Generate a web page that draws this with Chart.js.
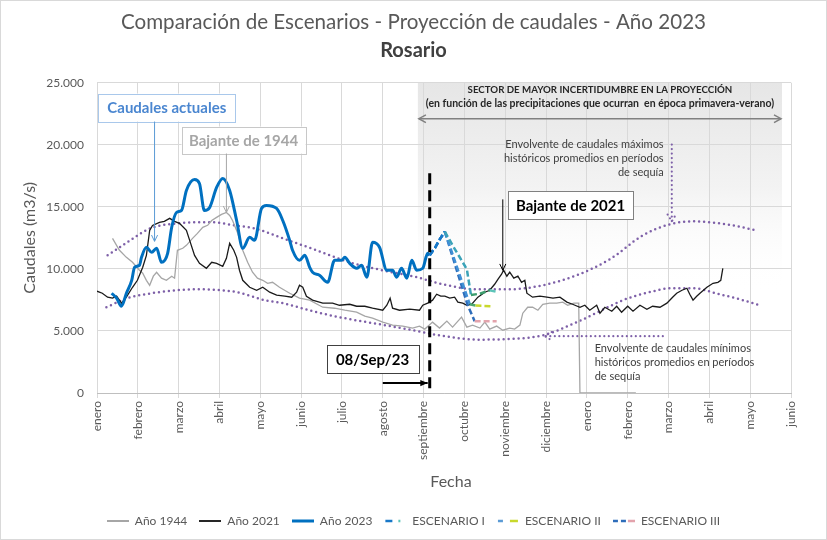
<!DOCTYPE html>
<html><head><meta charset="utf-8">
<script src="https://cdn.jsdelivr.net/npm/chart.js@4.4.0/dist/chart.umd.min.js"></script>
<style>html,body{margin:0;padding:0;background:#fff;overflow:hidden}</style>
</head><body>
<canvas id="c" width="827" height="540"></canvas>
<script>
// ---- DATA (x = meses desde el 1 de enero de 2023) ----
const meses = ['enero','febrero','marzo','abril','mayo','junio','julio','agosto','septiembre','octubre','noviembre','diciembre','enero','febrero','marzo','abril','mayo','junio'];

const mes2023 = [0.36,0.48,0.60,0.72,0.85,0.92,1.04,1.09,1.21,1.34,1.46,1.58,1.73,1.83,1.95,2.07,2.19,2.39,2.51,2.63,2.76,2.93,3.08,3.25,3.42,3.57,3.74,3.86,4.03,4.15,4.40,4.55,4.72,4.79,4.96,5.09,5.21,5.28,5.45,5.65,5.82,5.99,6.07,6.19,6.36,6.48,6.61,6.75,6.92,7.10,7.24,7.34,7.46,7.59,7.71,7.83,7.98,8.10,8.15];
const caudal2023 = [8040,7640,6990,8040,9080,10130,10290,10930,11740,11340,11660,10530,11250,13350,14550,14710,16320,17200,16880,14710,14950,16560,17280,16320,13900,11660,12540,12300,14870,15110,14870,13900,12300,11500,10690,11090,10130,9730,9490,8920,10690,10690,10930,10450,10050,10290,9330,12140,11740,9890,9890,9330,10050,9250,10690,9890,10050,11250,11100];

const mes2021 = [0.00,0.13,0.26,0.38,0.48,0.60,0.72,0.87,0.99,1.12,1.21,1.29,1.36,1.53,1.65,1.78,1.90,2.02,2.19,2.27,2.39,2.51,2.68,2.81,2.93,3.08,3.17,3.25,3.35,3.42,3.49,3.57,3.74,3.91,4.06,4.23,4.40,4.60,4.77,4.89,4.96,5.04,5.13,5.28,5.53,5.77,5.94,6.19,6.36,6.56,6.75,7.00,7.10,7.18,7.24,7.41,7.66,7.90,7.98,8.10,8.22,8.32,8.42,8.52,8.64,8.76,8.84,8.96,9.06,9.18,9.33,9.50,9.62,9.74,9.82,9.91,9.96,10.04,10.11,10.21,10.31,10.40,10.48,10.53,10.67,10.85,11.02,11.17,11.34,11.51,11.65,11.83,11.95,12.07,12.24,12.32,12.44,12.61,12.73,12.85,13.00,13.13,13.30,13.47,13.61,13.79,13.96,14.10,14.20,14.33,14.45,14.52,14.60,14.69,14.77,14.94,15.09,15.21,15.28,15.33];
const caudal2021 = [8200,8040,7720,7640,7800,7240,7720,8520,9080,10130,11090,13100,13500,13750,13830,14070,13830,13670,13100,12300,11090,10450,10050,10530,10450,10210,10850,12060,11500,10930,9890,9080,8520,8280,8520,8120,7880,7800,7720,8120,8680,8520,7800,7480,7240,7240,7070,7150,6990,6990,6830,6670,7070,7640,6830,6670,6750,6670,7070,7240,7480,7960,7800,7800,7640,7720,7320,7240,7070,7150,7720,8120,8280,8760,9160,9570,9890,9410,9730,9250,9410,8920,9080,8040,7720,7800,7720,7640,7720,7320,7150,6910,7070,6670,7070,6430,6910,6590,6990,6510,6990,6590,7070,6750,6990,6910,7240,7720,8040,8280,8440,7960,7480,7800,8040,8520,8840,8920,9080,10050];

const mes1944 = [0.38,0.55,0.72,0.87,1.04,1.12,1.21,1.29,1.38,1.46,1.58,1.70,1.83,1.90,1.97,2.10,2.19,2.34,2.46,2.59,2.71,2.81,2.93,3.05,3.17,3.25,3.32,3.44,3.57,3.69,3.81,3.93,4.06,4.18,4.30,4.47,4.72,4.96,5.21,5.53,5.82,6.07,6.36,6.56,6.75,7.00,7.24,7.49,7.73,7.90,8.03,8.22,8.39,8.57,8.71,8.93,9.06,9.20,9.38,9.50,9.62,9.79,9.94,10.11,10.23,10.36,10.43,10.55,10.67,10.80,10.92,11.09,11.26,11.41,11.53,11.68,11.80,11.83,13.20];
const caudal1944 = [12460,11500,10930,10530,9890,9650,9080,8680,9410,9730,9250,9080,9410,9250,11500,11660,11900,12460,12860,13350,13510,13900,14150,14390,14550,14310,13900,12940,11500,10530,9730,9250,9080,8840,8920,8520,8040,7640,7480,6910,6830,6670,6510,6190,6030,5710,5470,5390,5230,5390,5150,5710,5230,5790,5310,6110,5310,5470,5230,5710,5150,5390,5060,5230,5150,5470,6430,6910,6910,6670,7150,7240,7240,7320,7070,7240,7240,0,0];

const mesEsc1 = [8.15,8.28,8.40,8.52,8.71,9.06,9.16,9.38,9.62,9.79];
const caudalEsc1 = [11100,11700,12400,13000,11900,9970,7900,8000,8280,8150];
const mesEsc2 = [8.15,8.28,8.40,8.52,9.13,9.27,9.70];
const caudalEsc2 = [11100,11700,12400,13000,7150,7050,6990];
const mesEsc3 = [8.15,8.28,8.40,8.52,9.08,9.25,9.79];
const caudalEsc3 = [11100,11700,12400,13000,7070,5790,5790];

const mesEnvMax = [0.26,0.74,1.30,1.97,2.39,2.88,3.37,3.86,4.55,5.38,6.19,6.99,7.83,8.47,9.30,10.11,10.92,11.75,12.56,13.37,14.03,14.60,15.43,16.16];
const caudalEnvMax = [11090,12140,13260,13670,13750,13750,13500,13260,12460,11500,10530,9890,9330,8760,8360,8360,8680,9490,10770,12700,13590,13830,13590,13100];
const mesEnvMin = [0.23,0.75,1.34,1.97,2.39,2.95,3.44,4.11,4.55,5.38,6.19,6.99,7.83,8.47,9.30,10.11,10.92,11.75,12.32,12.90,13.50,14.10,14.60,15.20,15.80,16.25];
const caudalEnvMin = [6910,7640,8040,8280,8360,8300,8120,7480,7240,6510,5950,5500,5000,4600,4300,4350,4650,5700,6600,7500,8100,8450,8450,8000,7500,7050];

const fechaActual = 8.15;      // 08/Sep/23
const sectorInicio = 7.86, sectorFin = 16.78;

// ---- helpers ----
const pts = (xs, ys) => xs.map((m, i) => ({x: m, y: ys[i]}));
const fmt = v => String(v).replace(/\B(?=(\d{3})+(?!\d))/g, '.');
const FONT = 'Lato, "Liberation Sans", sans-serif';
Chart.defaults.font.family = FONT;
Chart.defaults.color = '#595959';

function segColors(colors) {
  return { borderColor: c => colors[Math.min(c.p0DataIndex, colors.length - 1)] };
}

function sample(draw) {
  const cv = document.createElement('canvas'); cv.width = 22; cv.height = 12;
  const g = cv.getContext('2d'); draw(g); return cv;
}
function seg(g, x1, x2, color, w) {
  g.strokeStyle = color; g.lineWidth = w; g.beginPath(); g.moveTo(x1, 6); g.lineTo(x2, 6); g.stroke();
}
const legendItems = [
  {text: 'Año 1944', s: sample(g => seg(g, 0, 22, '#A6A6A6', 2))},
  {text: 'Año 2021', s: sample(g => seg(g, 0, 22, '#262626', 2))},
  {text: 'Año 2023', s: sample(g => seg(g, 0, 22, '#0070C0', 3))},
  {text: 'ESCENARIO I', s: sample(g => { seg(g, 1, 8, '#1878C8', 2.5); seg(g, 14, 16, '#5CC4B8', 2.5); })},
  {text: 'ESCENARIO II', s: sample(g => { seg(g, 1, 6, '#5B9BD5', 2.5); seg(g, 13, 21, '#C8D82C', 2.5); })},
  {text: 'ESCENARIO III', s: sample(g => { seg(g, 0, 5, '#2E6DBA', 2.5); seg(g, 8, 13, '#2E6DBA', 2.5); seg(g, 15, 22, '#E3A3AC', 2.5); })}
];

function arrow(ctx, x1, y1, x2, y2, o) {
  ctx.save();
  ctx.strokeStyle = o.color; ctx.fillStyle = o.color; ctx.lineWidth = o.width || 1;
  if (o.dash) { ctx.setLineDash(o.dash); ctx.lineCap = 'round'; }
  ctx.beginPath(); ctx.moveTo(x1, y1); ctx.lineTo(x2, y2); ctx.stroke();
  const a = Math.atan2(y2 - y1, x2 - x1), h = o.head || 7, s = o.spread || 0.45;
  const heads = o.both ? [[x2, y2, a], [x1, y1, a + Math.PI]] : [[x2, y2, a]];
  heads.forEach(([hx, hy, ang]) => {
    ctx.beginPath();
    ctx.moveTo(hx - h * Math.cos(ang - s), hy - h * Math.sin(ang - s));
    ctx.lineTo(hx, hy);
    ctx.lineTo(hx - h * Math.cos(ang + s), hy - h * Math.sin(ang + s));
    if (o.filled) { ctx.closePath(); ctx.fill(); } else ctx.stroke();
  });
  ctx.restore();
}
function box(ctx, cx, cy, w, h, text, font, color, border) {
  ctx.save();
  ctx.fillStyle = '#fff'; ctx.fillRect(cx - w / 2, cy - h / 2, w, h);
  ctx.strokeStyle = border; ctx.lineWidth = 1;
  ctx.strokeRect(Math.round(cx - w / 2) + 0.5, Math.round(cy - h / 2) + 0.5, w, h);
  ctx.font = font; ctx.fillStyle = color; ctx.textAlign = 'center'; ctx.textBaseline = 'middle';
  ctx.fillText(text, cx, cy + 1);
  ctx.restore();
}

const overlay = {
  id: 'overlay',
  beforeDraw(chart) {
    const {ctx, chartArea, scales: {x, y}} = chart;
    ctx.save();
    ctx.fillStyle = '#fff'; ctx.fillRect(0, 0, chart.width, chart.height);
    const x0 = x.getPixelForValue(sectorInicio), x1 = x.getPixelForValue(sectorFin);
    const top = chartArea.top, bot = y.getPixelForValue(8000);
    const g = ctx.createLinearGradient(0, top, 0, bot);
    g.addColorStop(0, '#E6E6E6'); g.addColorStop(0.5, '#F3F3F3'); g.addColorStop(1, 'rgba(255,255,255,0)');
    ctx.fillStyle = g; ctx.fillRect(x0, top, x1 - x0, bot - top);
    ctx.restore();
  },
  afterDatasetsDraw(chart) {
    const {ctx, chartArea, scales: {x, y}} = chart;
    const X = m => x.getPixelForValue(m), Y = v => y.getPixelForValue(v);
    ctx.save();
    // línea de fecha actual
    ctx.strokeStyle = '#000'; ctx.lineWidth = 3; ctx.setLineDash([11, 6]);
    ctx.beginPath(); ctx.moveTo(X(fechaActual), Y(17700)); ctx.lineTo(X(fechaActual), Y(0)); ctx.stroke();
    ctx.setLineDash([]);
    // encabezado del sector
    ctx.fillStyle = '#262626'; ctx.textAlign = 'center'; ctx.textBaseline = 'middle';
    ctx.font = 'bold 9.7px ' + FONT;
    ctx.fillText('SECTOR DE MAYOR INCERTIDUMBRE EN LA PROYECCIÓN', X(12.32), Y(24440));
    ctx.font = 'bold 10.5px ' + FONT;
    ctx.fillText('(en función de las precipitaciones que ocurran  en época primavera-verano)', X(12.32), Y(23310));
    arrow(ctx, X(sectorInicio) + 1, Y(22100), X(sectorFin) - 1, Y(22100), {color: '#808080', width: 1.5, head: 8, both: true, spread: 0.5});
    // cajas
    box(ctx, X(1.71), Y(23000), 137, 28, 'Caudales actuales', 'bold 15px ' + FONT, '#4A86D0', '#A9C8EB');
    arrow(ctx, X(1.41), Y(23000) + 14, X(1.41), Y(12220), {color: '#5B9BD5', width: 1, head: 7});
    box(ctx, X(3.59), Y(20380), 124, 27, 'Bajante de 1944', 'bold 15px ' + FONT, '#A6A6A6', '#C8C8C8');
    arrow(ctx, X(3.17), Y(20380) + 13.5, X(3.17), Y(14550), {color: '#A6A6A6', width: 1, head: 7});
    box(ctx, X(11.6), Y(15110), 125, 28, 'Bajante de 2021', 'bold 15px ' + FONT, '#000', '#808080');
    arrow(ctx, X(9.94), Y(15600), X(9.94), Y(9890), {color: '#000', width: 1, head: 7});
    box(ctx, X(6.75), Y(2730), 92, 28, '08/Sep/23', 'bold 15px ' + FONT, '#000', '#404040');
    arrow(ctx, X(7.0), Y(800), X(8.1), Y(800), {color: '#000', width: 2, head: 8, filled: true, spread: 0.4});
    // envolventes
    ctx.font = '11px ' + FONT; ctx.fillStyle = '#404040';
    ctx.textAlign = 'right';
    ctx.fillText('Envolvente de caudales máximos', X(13.88), Y(20020));
    ctx.fillText('históricos promedios en períodos', X(13.88), Y(18890));
    ctx.fillText('de sequía', X(13.88), Y(17770));
    ctx.textAlign = 'left';
    ctx.fillText('Envolvente de caudales mínimos', X(12.19), Y(3620));
    ctx.fillText('históricos promedios en períodos', X(12.19), Y(2490));
    ctx.fillText('de sequía', X(12.19), Y(1370));
    const dot = {color: '#7E60A8', width: 2.2, head: 8, dash: [0, 4.5], spread: 0.55};
    arrow(ctx, X(14.08), Y(20020), X(14.08), Y(13830), dot);
    arrow(ctx, X(13.86), Y(4580), X(10.97), Y(4580), dot);
    // título del eje x
    ctx.font = '16px ' + FONT; ctx.fillStyle = '#595959'; ctx.textAlign = 'center';
    ctx.fillText('Fecha', X(8.67), chartArea.bottom + 89);
    // borde
    ctx.strokeStyle = '#D9D9D9'; ctx.lineWidth = 1;
    ctx.strokeRect(0.5, 0.5, chart.width - 1, chart.height - 1);
    ctx.restore();
  }
};

const dotted = {borderDash: [0, 5], borderCapStyle: 'round', borderWidth: 2.5, borderColor: '#7E60A8'};

new Chart(document.getElementById('c'), {
  type: 'line',
  data: {
    datasets: [
      {label: 'ESCENARIO I', data: pts(mesEsc1, caudalEsc1), borderWidth: 2.5, borderDash: [6, 3],
        segment: segColors(['#1878C8','#1878C8','#1878C8','#3BA3B8','#3BA3B8','#3BA3B8','#3E9E6E','#3E9E6E','#5CC4B8'])},
      {label: 'ESCENARIO II', data: pts(mesEsc2, caudalEsc2), borderWidth: 2.5, borderDash: [6, 3],
        segment: segColors(['#1878C8','#1878C8','#1878C8','#3F8FD5','#4CA870','#C8D82C'])},
      {label: 'ESCENARIO III', data: pts(mesEsc3, caudalEsc3), borderWidth: 2.5, borderDash: [6, 3],
        segment: segColors(['#1878C8','#1878C8','#1878C8','#2E6DBA','#2E6DBA','#E3A3AC'])},
      {label: 'Año 2023', data: pts(mes2023, caudal2023), borderColor: '#0070C0', borderWidth: 3, cubicInterpolationMode: 'monotone'},
      {label: 'Año 2021', data: pts(mes2021, caudal2021), borderColor: '#1A1A1A', borderWidth: 1.3},
      {label: 'Año 1944', data: pts(mes1944, caudal1944), borderColor: '#A6A6A6', borderWidth: 1.3},
      Object.assign({label: 'Envolvente máx', data: pts(mesEnvMax, caudalEnvMax), cubicInterpolationMode: 'monotone'}, dotted),
      Object.assign({label: 'Envolvente mín', data: pts(mesEnvMin, caudalEnvMin), cubicInterpolationMode: 'monotone'}, dotted)
    ]
  },
  options: {
    responsive: false,
    animation: false,
    events: [],
    elements: {point: {radius: 0}, line: {fill: false}},
    layout: {padding: {left: 0, right: 0, top: 0, bottom: 3}},
    scales: {
      x: {
        type: 'linear', min: 0, max: 17,
        afterFit: s => { s.height = 110; },
        grid: {color: '#D9D9D9', tickLength: 5, drawTicks: true},
        border: {color: '#BFBFBF'},
        ticks: {stepSize: 1, autoSkip: false, minRotation: 90, maxRotation: 90, padding: 3,
          font: {size: 12}, color: '#595959', callback: v => meses[v]}
      },
      y: {
        min: 0, max: 25000,
        afterFit: s => { s.width = 97; },
        grid: {color: '#D9D9D9', drawTicks: false},
        border: {display: false},
        ticks: {stepSize: 5000, padding: 13, font: {size: 12}, color: '#595959', callback: v => fmt(v)},
        title: {display: true, text: 'Caudales (m3/s)', font: {size: 16}, color: '#595959', padding: {top: 20, bottom: 0}}
      },
      y2: {
        position: 'right', min: 0, max: 1,
        afterFit: s => { s.width = 36; },
        grid: {display: false}, border: {display: false}, ticks: {display: false}
      }
    },
    plugins: {
      title: {display: true, text: 'Comparación de Escenarios - Proyección de caudales - Año 2023',
        font: {size: 20.6, weight: 'normal'}, color: '#595959', padding: {top: 10, bottom: 4}},
      subtitle: {display: true, text: 'Rosario', font: {size: 20, weight: 'bold'}, color: '#404040',
        padding: {top: 0, bottom: 20}},
      legend: {
        position: 'bottom',
        labels: {
          usePointStyle: true, pointStyleWidth: 22, boxHeight: 12, padding: 12,
          font: {size: 12}, color: '#595959',
          generateLabels: () => legendItems.map((it, i) => ({
            text: it.text, pointStyle: it.s, fillStyle: 'transparent', strokeStyle: 'transparent',
            lineWidth: 0, hidden: false, datasetIndex: i, fontColor: '#595959'
          }))
        }
      },
      tooltip: {enabled: false}
    }
  },
  plugins: [overlay]
});
</script>
</body></html>
